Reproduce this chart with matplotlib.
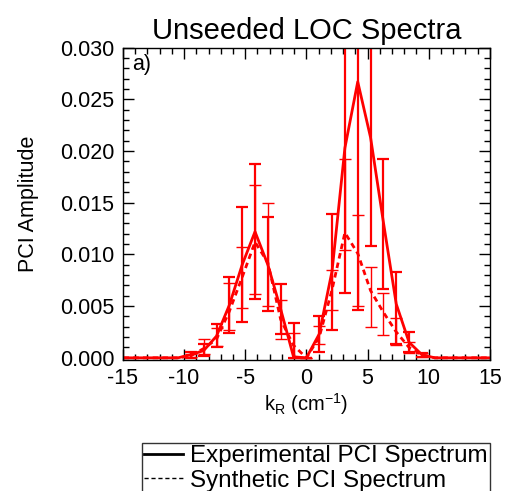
import matplotlib
matplotlib.use('Agg')
import matplotlib.pyplot as plt
from matplotlib.lines import Line2D
from matplotlib.ticker import MultipleLocator
import numpy as np

plt.rcParams['font.family'] = ['Liberation Sans', 'DejaVu Sans']
plt.rcParams['axes.unicode_minus'] = False

# wavenumber grid (cm^-1), step ~1.05
k = np.arange(-15, 16) * 1.05

# spectra amplitudes
exp_amp = [0, 0, 0, 0, 0, 0,
           0.0003, 0.0007, 0.0021, 0.0051, 0.0090, 0.0122, 0.0090, 0.0047, 0.0001,
           0.0,
           0.0023, 0.0084, 0.0203, 0.0267, 0.0213, 0.0131, 0.0052, 0.0015, 0.0003,
           0, 0, 0, 0, 0, 0]
syn_amp = [0, 0, 0, 0, 0, 0,
           0.0002, 0.0009, 0.0018, 0.0045, 0.0078, 0.0112, 0.0092, 0.0037, 0.0012,
           0.0,
           0.0020, 0.0066, 0.0121, 0.0101, 0.0065, 0.0044, 0.0025, 0.0010, 0.0003,
           0, 0, 0, 0, 0, 0]

# error bar extents (only |k| < 10)
k_err = k[6:25]
exp_lo = [0.0000, 0.0002, 0.0010, 0.0024, 0.0035, 0.0057, 0.0045, 0.0023, 0.0000, 0.0,
          0.0006, 0.0027, 0.0063, 0.0046, 0.0108, 0.0067, 0.0013, 0.0006, 0.0001]
exp_hi = [0.0006, 0.0013, 0.0033, 0.0078, 0.0146, 0.0187, 0.0136, 0.0071, 0.0034, 0.0,
          0.0040, 0.0139, 0.0345, 0.0490, 0.0320, 0.0192, 0.0083, 0.0025, 0.0005]
syn_lo = [0.0001, 0.0004, 0.0011, 0.0027, 0.0048, 0.0062, 0.0050, 0.0018, 0.0000, 0.0,
          0.0013, 0.0046, 0.0104, 0.0050, 0.0030, 0.0022, 0.0012, 0.0005, 0.0001]
syn_hi = [0.0004, 0.0018, 0.0029, 0.0072, 0.0107, 0.0167, 0.0150, 0.0056, 0.0024, 0.0,
          0.0031, 0.0085, 0.0192, 0.0138, 0.0088, 0.0063, 0.0039, 0.0015, 0.0005]

exp_in = np.array(exp_amp)[6:25]
syn_in = np.array(syn_amp)[6:25]

fig = plt.figure(figsize=(5.06, 4.91), dpi=100)
ax = fig.add_axes([0.243, 0.267, 0.725, 0.636])

ax.plot(k, exp_amp, color='red', lw=2)
ax.plot(k, syn_amp, color='red', lw=2, ls=(0, (2, 1.5)))
ax.errorbar(k_err, exp_in, yerr=[exp_in - np.array(exp_lo), np.array(exp_hi) - exp_in],
            fmt='none', ecolor='red', elinewidth=1.6, capsize=4.5, capthick=1.6)
ax.errorbar(k_err, syn_in, yerr=[syn_in - np.array(syn_lo), np.array(syn_hi) - syn_in],
            fmt='none', ecolor='red', elinewidth=1.0, capsize=4.5, capthick=1.0)

ax.set_xlim(-15, 15)
ax.set_ylim(-0.0002, 0.030)
ax.xaxis.set_major_locator(MultipleLocator(5))
ax.xaxis.set_minor_locator(MultipleLocator(1))
ax.yaxis.set_major_locator(MultipleLocator(0.005))
ax.yaxis.set_minor_locator(MultipleLocator(0.001))
ax.yaxis.set_major_formatter(plt.FuncFormatter(lambda v, p: f"{v:.3f}"))
ax.tick_params(which='both', direction='in', top=True, right=True, labelsize=15.5, width=1)
ax.tick_params(which='major', length=8, pad=6)
ax.tick_params(which='minor', length=4)
for s in ax.spines.values():
    s.set_linewidth(1)

ax.set_title('Unseeded LOC Spectra', fontsize=21, pad=6)
ax.set_xlabel(r'k$_\mathregular{R}$ (cm$^\mathregular{-1}$)', fontsize=14.5, labelpad=1)
ax.set_ylabel('PCI Amplitude', fontsize=15.5, labelpad=15)
ax.text(0.025, 0.978, 'a)', transform=ax.transAxes, fontsize=15.5, va='top', ha='left')

handles = [Line2D([], [], color='black', lw=2),
           Line2D([], [], color='black', lw=1, ls=(0, (3, 2)))]
leg = fig.legend(handles, ['Experimental PCI Spectrum', 'Synthetic PCI Spectrum'],
                 loc='upper left', bbox_to_anchor=(142 / 506, 1 - 443 / 491),
                 borderaxespad=0, fontsize=17.4, frameon=True, fancybox=False,
                 edgecolor='black', handlelength=1.6, handletextpad=0.3,
                 labelspacing=0.1, borderpad=0.1)
leg.get_frame().set_linewidth(1)

fig.savefig('out.png', dpi=100)
